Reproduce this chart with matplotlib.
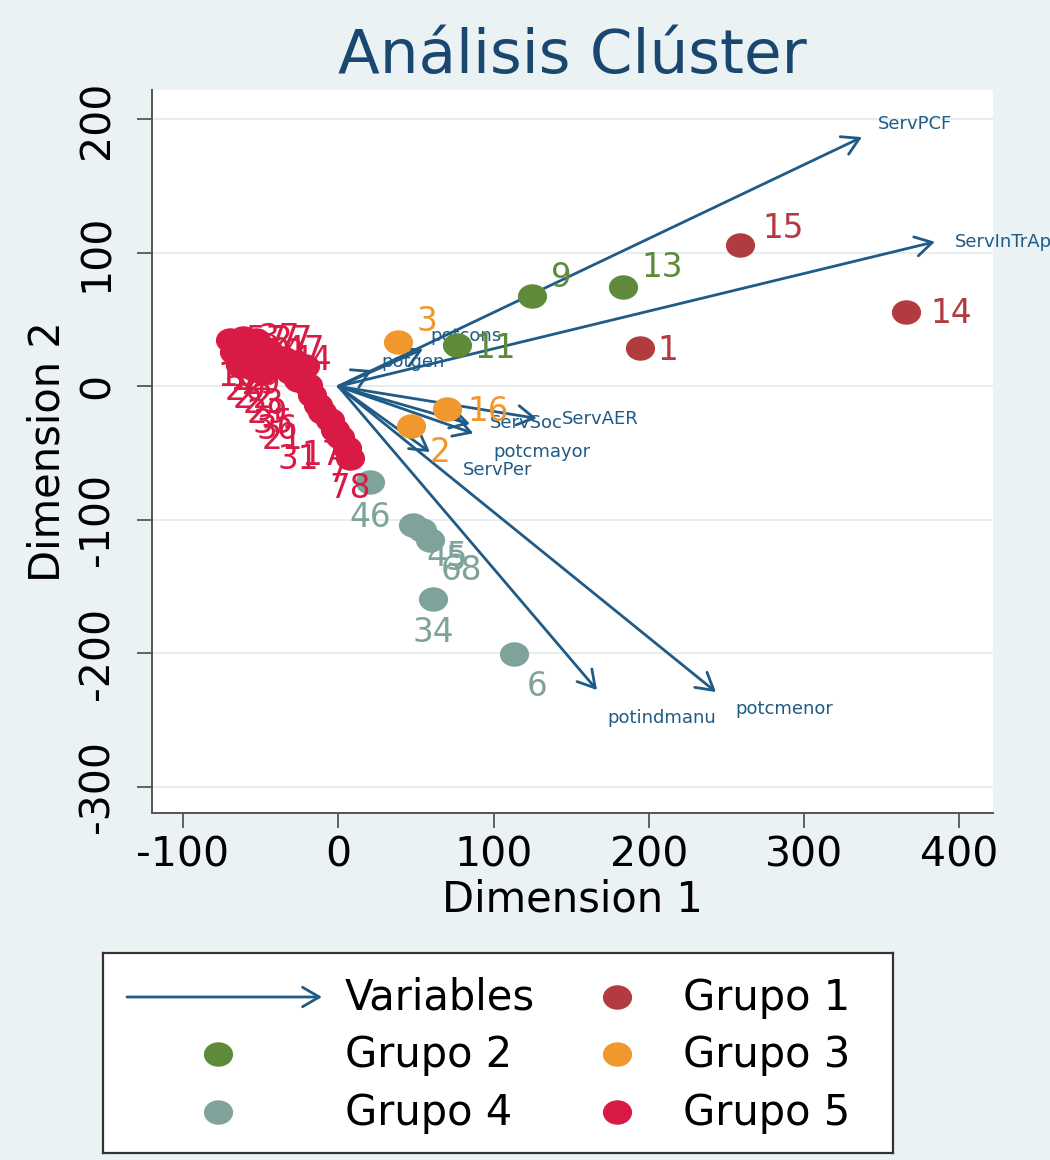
import matplotlib.pyplot as plt
from matplotlib.path import Path
from matplotlib.transforms import Affine2D

plt.rcParams["axes.unicode_minus"] = False

# ── Data ────────────────────────────────────────────────────────────────────
VAR_NAMES = ["ServPCF", "ServInTrAp", "potcons", "potgen", "ServAER",
             "ServSoc", "potcmayor", "ServPer", "potindmanu", "potcmenor"]
VAR_X = [337.2, 384.2, 54.5, 21.7, 127.8, 84.8, 86.9, 59.0, 166.6, 243.2]
VAR_Y = [186.7, 108.3, 27.9, 12.2, -24.0, -28.2, -35.2, -49.2, -227.5, -229.0]

G1_LAB = ["15", "1", "14"]
G1_X = [258.7, 194.3, 365.5]
G1_Y = [105.8, 28.7, 55.9]

G2_LAB = ["9", "13", "11"]
G2_X = [124.5, 183.1, 76.2]
G2_Y = [67.6, 74.6, 30.9]

G3_LAB = ["3", "16", "2"]
G3_X = [38.6, 69.8, 46.8]
G3_Y = [33.4, -17.2, -29.7]

G4_LAB = ["46", "45", "68", "5", "34", "6"]
G4_X = [20.4, 48.1, 53.9, 59.0, 61.2, 113.2]
G4_Y = [-71.5, -103.9, -107.6, -115.1, -159.6, -200.6]

G5_LAB = ["57", "37", "27", "50", "59", "53", "55", "39", "47", "44",
          "10", "12", "19", "20", "22", "23", "29", "35", "36",
          "21", "17", "31", "78", "7"]
G5_X = [-69.7, -61.4, -53.0, -67.2, -58.2, -63.3, -55.6, -49.1, -45.3, -40.8,
        -35.6, -27.9, -21.4, -31.1, -25.9, -19.5, -16.9, -13.1, -10.5,
        -5.3, -2.1, 1.1, 5.6, 7.5]
G5_Y = [34.7, 36.2, 34.7, 25.7, 24.9, 16.0, 13.7, 10.7, 27.2, 19.7,
        21.2, 18.2, 15.2, 10.7, 4.7, 1.0, -6.5, -14.0, -19.2,
        -25.2, -32.7, -38.0, -46.2, -53.7]

# ── Layout: label offsets in pixels (dx, dy up) ─────────────────────────────
VAR_OFF = [(16, 13), (20, 0), (7, 13), (9, 8), (25, -1),
           (20, 1), (20, -19), (33, -18), (10, -28), (19, -17)]
G1_OFF = [(43, 17), (28, -2), (45, -2)]
G2_OFF = [(30, 19), (40, 19), (39, -3)]
G3_OFF = [(29, 20), (41, -2), (29, -26)]
G4_OFF = [(0, -36), (34, -31), (39, -41), (26, -20), (0, -33), (23, -32)]
G5_OFF = [(36, 0)] * 10 + [(-45, -18)] * 9 + \
         [(-48, -20), (-13, -25), (-42, -22), (3, -40), (-12, -14)]

GROUPS = [
    ("Grupo 1", "#B23B3F", G1_X, G1_Y, G1_LAB, G1_OFF),
    ("Grupo 2", "#5E8A3A", G2_X, G2_Y, G2_LAB, G2_OFF),
    ("Grupo 3", "#F0982E", G3_X, G3_Y, G3_LAB, G3_OFF),
    ("Grupo 4", "#7FA39A", G4_X, G4_Y, G4_LAB, G4_OFF),
    ("Grupo 5", "#D91A45", G5_X, G5_Y, G5_LAB, G5_OFF),
]
GROUP_COLOR = {g[0]: g[1] for g in GROUPS}

ARROW_C = "#1F5B86"
BG = "#EAF2F3"
TITLE_C = "#1A476F"
ARROWSTYLE = "->,head_length=0.6,head_width=0.35"

# slightly flattened circle, like the Stata markers in the picture
ELL = Path.unit_circle().transformed(Affine2D().scale(1.0, 0.83))

W, H = 1050, 1160
fig = plt.figure(figsize=(W / 100, H / 100), dpi=100, facecolor=BG)
ax = fig.add_axes([152 / W, 1 - 813 / H, (993 - 152) / W, (813 - 90) / H])
ax.set_facecolor("white")

# ── Arrows (variables) ─────────────────────────────────────────────────────
for name, vx, vy, (dx, dy) in zip(VAR_NAMES, VAR_X, VAR_Y, VAR_OFF):
    ax.annotate("", xy=(vx, vy), xytext=(0, 0),
                arrowprops=dict(arrowstyle=ARROWSTYLE, color=ARROW_C,
                                lw=2.0, shrinkA=0, shrinkB=0,
                                mutation_scale=20),
                zorder=2)
    ax.annotate(name, (vx, vy), xytext=(dx, dy), textcoords="offset pixels",
                ha="left", va="center", fontsize=13, color=ARROW_C,
                zorder=2, annotation_clip=False)

# ── Observations ───────────────────────────────────────────────────────────
for gname, col, xs, ys, labs, offs in GROUPS:
    ax.plot(xs, ys, ls="none", marker=ELL, ms=20, color=col, mec=col,
            zorder=3)
    for x, y, lab, (dx, dy) in zip(xs, ys, labs, offs):
        ax.annotate(lab, (x, y), xytext=(dx, dy), textcoords="offset pixels",
                    ha="center", va="center", fontsize=23.5, color=col,
                    zorder=4, annotation_clip=False)

# ── Axes styling ───────────────────────────────────────────────────────────
ax.set_xlim(-120, 421.6)
ax.set_ylim(-319.6, 222)
ax.set_xticks([-100, 0, 100, 200, 300, 400])
ax.set_yticks([-300, -200, -100, 0, 100, 200])
ax.yaxis.grid(True, color="#E6EDEE", lw=1.4, zorder=0)
ax.set_axisbelow(True)
for s in ["top", "right"]:
    ax.spines[s].set_visible(False)
for s in ["left", "bottom"]:
    ax.spines[s].set_color("#555555")
    ax.spines[s].set_linewidth(1.4)
ax.tick_params(axis="both", length=11, width=1.3, color="#555555",
               labelsize=29.5, labelcolor="black")
ax.tick_params(axis="x", pad=5)
ax.tick_params(axis="y", pad=14)
for t in ax.get_yticklabels():
    t.set_rotation(90)
    t.set_va("center")
ax.set_xlabel("Dimension 1", fontsize=30, labelpad=2)
ax.set_ylabel("Dimension 2", fontsize=30, labelpad=6)

fig.text(572 / W, 1 - 73 / H, "Análisis Clúster", ha="center",
         va="baseline", fontsize=44, color=TITLE_C)

# ── Legend (drawn as its own box, Stata-style key layout) ──────────────────
lax = fig.add_axes([103 / W, 1 - 1153 / H, (893 - 103) / W, 200 / H])
lax.set_xlim(103, 893)
lax.set_ylim(1153, 953)
lax.set_xticks([])
lax.set_yticks([])
lax.set_facecolor("white")
for s in lax.spines.values():
    s.set_color("#333333")
    s.set_linewidth(1.6)

rows = [(997, 1010), (1054, 1067), (1112, 1125)]
lax.annotate("", xy=(322, rows[0][0]), xytext=(127, rows[0][0]),
             arrowprops=dict(arrowstyle=ARROWSTYLE, color=ARROW_C, lw=2.0,
                             shrinkA=0, shrinkB=0, mutation_scale=20))
lax.text(345, rows[0][1], "Variables", va="baseline", fontsize=30)
left_keys = ["Grupo 2", "Grupo 4"]
right_keys = ["Grupo 1", "Grupo 3", "Grupo 5"]
for (ym, yb), g in zip(rows[1:], left_keys):
    lax.plot([218], [ym], ls="none", marker=ELL, ms=20,
             color=GROUP_COLOR[g], mec=GROUP_COLOR[g])
    lax.text(345, yb, g, va="baseline", fontsize=30)
for (ym, yb), g in zip(rows, right_keys):
    lax.plot([617], [ym], ls="none", marker=ELL, ms=20,
             color=GROUP_COLOR[g], mec=GROUP_COLOR[g])
    lax.text(683, yb, g, va="baseline", fontsize=30)

fig.savefig("out.png", dpi=100, facecolor=BG)
